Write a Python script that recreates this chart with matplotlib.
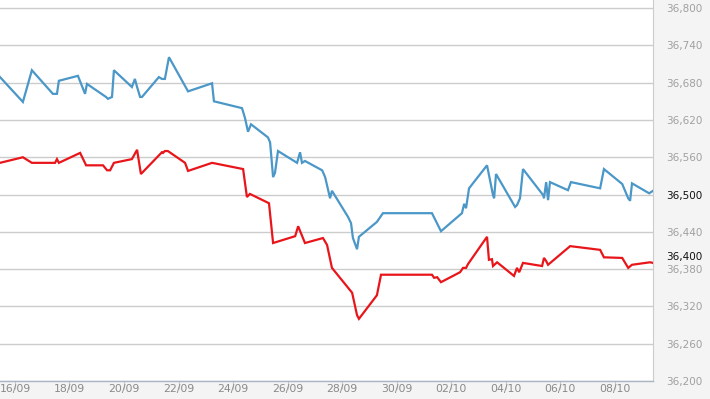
import matplotlib
matplotlib.use("Agg")
import matplotlib.pyplot as plt

# x values: days since 16/09 00:00
blue_days = [-0.55, 0.29, 0.62, 1.39, 1.54, 1.61, 2.31, 2.57, 2.64, 3.34, 3.41, 3.56, 3.63,
             4.29, 4.40, 4.48, 4.59, 4.66, 5.28, 5.39, 5.50, 5.65, 6.35, 7.23, 7.30, 8.33,
             8.44, 8.55, 8.66, 9.28, 9.36, 9.47, 9.54, 9.65, 10.35, 10.46, 10.53, 10.64,
             11.27, 11.38, 11.56, 11.63, 12.22, 12.33, 12.40, 12.55, 12.62, 13.28, 13.50,
             15.30, 15.63, 16.40, 16.48, 16.55, 16.66, 17.32, 17.54, 17.58, 17.65, 18.35,
             18.42, 18.53, 18.64, 19.38, 19.41, 19.49, 19.56, 19.63, 20.29, 20.40, 21.47,
             21.61, 22.28, 22.50, 22.57, 22.64, 23.27, 23.41]
blue_vals = [36689, 36649, 36700, 36662, 36662, 36683, 36691, 36662, 36678, 36657, 36654, 36657, 36700,
             36673, 36686, 36673, 36657, 36657, 36689, 36686, 36686, 36721, 36666, 36679, 36650, 36639,
             36623, 36601, 36613, 36592, 36584, 36528, 36535, 36570, 36551, 36568, 36551, 36554,
             36539, 36528, 36494, 36506, 36464, 36454, 36430, 36412, 36432, 36456, 36470,
             36470, 36441, 36470, 36485, 36478, 36510, 36547, 36499, 36494, 36533, 36480,
             36483, 36494, 36541, 36499, 36494, 36520, 36491, 36520, 36507, 36520, 36510,
             36541, 36517, 36494, 36490, 36518, 36502, 36506]

red_days = [-0.55, 0.29, 0.62, 1.47, 1.54, 1.61, 2.39, 2.61, 3.23, 3.38, 3.49, 3.63, 4.29,
            4.48, 4.62, 5.39, 5.43, 5.50, 5.61, 6.24, 6.35, 7.23, 8.37, 8.51, 8.62, 9.32,
            9.47, 10.28, 10.39, 10.64, 11.30, 11.45, 11.63, 12.37, 12.55, 12.62, 13.28, 13.43,
            15.30, 15.38, 15.49, 15.63, 16.33, 16.44, 16.55, 16.62, 17.32, 17.39, 17.50, 17.54,
            17.69, 18.31, 18.42, 18.50, 18.64, 19.34, 19.41, 19.49, 19.56, 20.37, 21.47, 21.61,
            22.28, 22.50, 22.64, 23.30, 23.41]
red_vals = [36551, 36560, 36551, 36551, 36557, 36551, 36567, 36547, 36547, 36539, 36539, 36551, 36557,
            36572, 36533, 36568, 36567, 36570, 36570, 36551, 36538, 36551, 36541, 36496, 36501, 36486,
            36422, 36433, 36449, 36422, 36430, 36419, 36382, 36342, 36306, 36300, 36338, 36371,
            36371, 36366, 36367, 36359, 36375, 36382, 36382, 36388, 36432, 36395, 36396, 36385,
            36391, 36369, 36382, 36375, 36390, 36385, 36398, 36393, 36387, 36417, 36411, 36399,
            36398, 36382, 36387, 36391, 36390]

x_tick_days = [0, 2, 4, 6, 8, 10, 12, 14, 16, 18, 20, 22]
x_tick_labels = ["16/09", "18/09", "20/09", "22/09", "24/09", "26/09", "28/09",
                 "30/09", "02/10", "04/10", "06/10", "08/10"]
y_ticks = [36200, 36260, 36320, 36380, 36440, 36500, 36560, 36620, 36680, 36740, 36800]
y_tick_labels = ["36,200", "36,260", "36,320", "36,380", "36,440", "36,500",
                 "36,560", "36,620", "36,680", "36,740", "36,800"]
last_label_value = 36400
last_label_text = "36,400"

fig = plt.figure(figsize=(7.10, 3.99), dpi=100, facecolor="#f4f4f4")
ax = fig.add_axes([0.0, 1 - 381 / 399, 653 / 710, 381 / 399])
ax.set_facecolor("white")

ax.plot(blue_days, blue_vals, color="#4a97c8", lw=1.6, solid_joinstyle="miter", zorder=3)
ax.plot(red_days, red_vals, color="#e8161b", lw=1.6, solid_joinstyle="miter", zorder=3)

ax.set_xlim(-0.55, 23.41)
ax.set_ylim(36200, 36813)

ax.set_yticks(y_ticks)
ax.set_yticklabels(y_tick_labels)
ax.yaxis.tick_right()
ax.tick_params(axis="y", length=0, pad=9.5, labelsize=7.5, labelcolor="#a0a0a0")
for lbl in ax.get_yticklabels():
    if lbl.get_text() == "36,500":
        lbl.set_color("#111111")
ax.grid(axis="y", color="#cccccc", lw=1.0, zorder=1)

ax.set_xticks(x_tick_days)
ax.set_xticklabels(x_tick_labels)
ax.tick_params(axis="x", length=6, width=0.8, color="#c8c8c8", pad=-3.5,
               labelsize=7.8, labelcolor="#8a8a8a")

ax.text(1.0 + 13 / 653, last_label_value, last_label_text,
        transform=ax.get_yaxis_transform(), ha="left", va="center",
        fontsize=7.5, color="#111111")

for s in ["top", "left"]:
    ax.spines[s].set_visible(False)
ax.spines["right"].set_color("#cccccc")
ax.spines["bottom"].set_color("#aab6c6")
ax.spines["bottom"].set_linewidth(1.0)

fig.savefig("out.png", dpi=100, facecolor=fig.get_facecolor())
